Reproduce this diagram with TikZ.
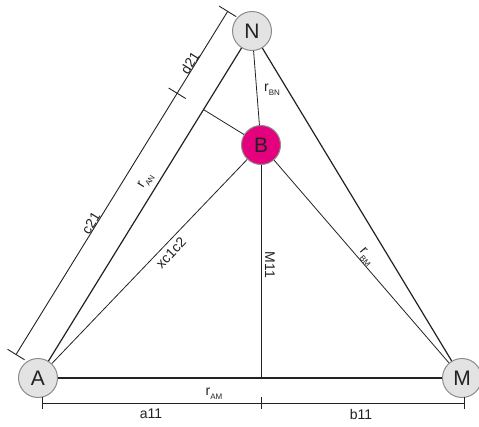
\documentclass[tikz,border=0pt]{standalone}
\usepackage{fontspec}
\setmainfont{Liberation Sans}
\usetikzlibrary{calc,arrows.meta}
\definecolor{nodegray}{HTML}{E3E3E3}
\definecolor{rimgray}{HTML}{8C8C8C}
\definecolor{magentaB}{HTML}{E5007D}
\definecolor{ink}{HTML}{222222}
\newcommand\rlbl[1]{r\raisebox{-0.6ex}{\fontsize{8}{9}\selectfont #1}}
\tikzset{
  station/.style={circle, draw=rimgray, line width=1pt, fill=nodegray, minimum size=39pt, inner sep=0pt, font=\fontsize{21}{22}\selectfont, text=ink},
  hub/.style={station, fill=magentaB},
  thick line/.style={draw=ink, line width=1.2pt},
  thin line/.style={draw=ink, line width=0.8pt},
  dimline/.style={draw=ink, line width=0.9pt},
  lbl/.style={font=\fontsize{14}{15}\selectfont, text=ink, inner sep=0pt}
}
\begin{document}
\begin{tikzpicture}[x=1pt,y=1pt]
\useasboundingbox (0,0) rectangle (479,426);
% nodes
\node[station] (A) at (38,48) {A};
\node[station] (M) at (462,48) {M};
\node[station] (N) at (252,395) {N};
\node[hub] (B) at (261,281) {B};
% helper coordinates
\coordinate (F) at ($(A.center)!(B.center)!(N.center)$);
\coordinate (G) at (B.center |- A.center);
% connectors
\draw[thick line] (A) -- (M);
\draw[thick line] (A) -- (N);
\draw[thick line] (N) -- (M);
\draw[thin line] (N) -- (B);
\draw[thin line] (A) -- (B);
\draw[thin line] (B) -- (M);
\draw[thin line] (B) -- (G);
\draw[thin line] (F) -- (B);
% dimension line along AN
\coordinate (d1) at (15.8,71.1);
\coordinate (d2) at (227.9,415.0);
\coordinate (dm) at (177.2,332.7);
\draw[dimline, {Bar[width=20pt]}-{Bar[width=20pt]}] (d1) -- (d2);
\draw[dimline] ($(dm)!10pt!90:(d2)$) -- ($(dm)!10pt!-90:(d2)$);
% dimension line along AM
\coordinate (h1) at (42,23);
\coordinate (h2) at (465,23);
\coordinate (hm) at (261,23);
\draw[dimline, {Bar[width=12pt]}-{Bar[width=12pt]}] (h1) -- (h2);
\draw[dimline] ($(hm)+(0,6)$) -- ($(hm)+(0,-6)$);
% labels
\node[lbl, rotate=58.3] (c21) at (91,203) {c21};
\node[lbl, rotate=58.3] (d21) at (190,363) {d21};
\node[lbl, rotate=58.3] (rAN) at (146,245) {\rlbl{AN}};
\node[lbl, rotate=46.3] (xc) at (171,173) {xc1c2};
\node[lbl] (rBN) at (272,336) {\rlbl{BN}};
\node[lbl, rotate=-90] (M11) at (270,161) {M11};
\node[lbl, rotate=-49] (rBM) at (366,169) {\rlbl{BM}};
\node[lbl] (rAM) at (214,32) {\rlbl{AM}};
\node[lbl] (a11) at (151,12) {a11};
\node[lbl] (b11) at (361,12) {b11};
\end{tikzpicture}
\end{document}
